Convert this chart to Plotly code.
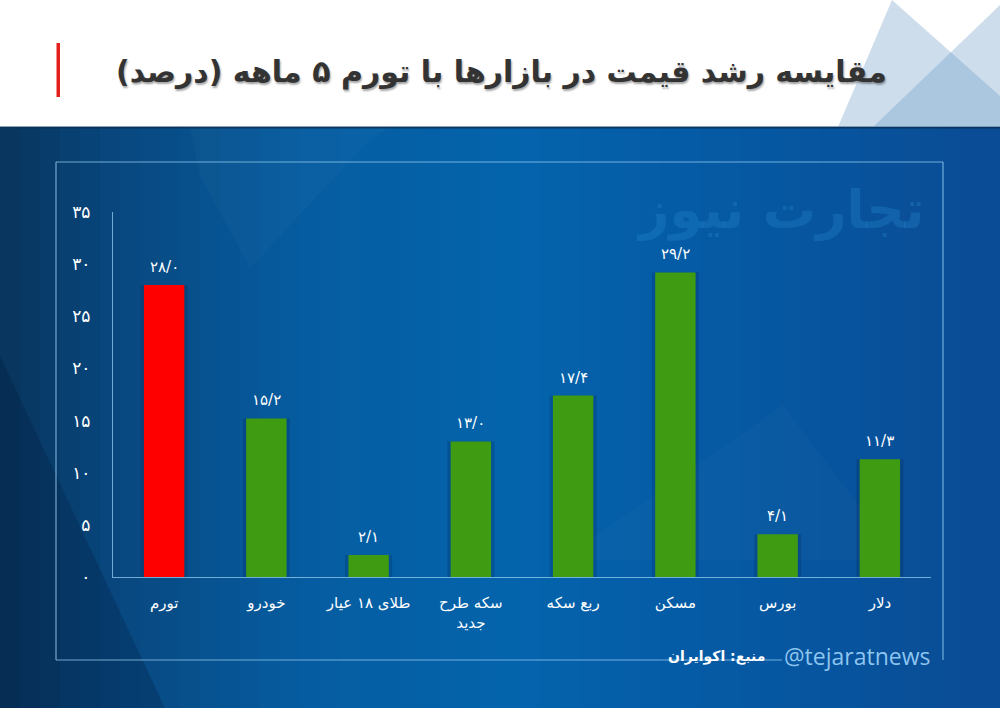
import plotly.graph_objects as go

# ---------------- data ----------------
categories = ["تورم", "خودرو", "طلای ۱۸ عیار", "سکه طرح<br>جدید", "ربع سکه", "مسکن", "بورس", "دلار"]
values = [28.0, 15.2, 2.1, 13.0, 17.4, 29.2, 4.1, 11.3]
value_labels = ["۲۸/۰", "۱۵/۲", "۲/۱", "۱۳/۰", "۱۷/۴", "۲۹/۲", "۴/۱", "۱۱/۳"]
bar_colors = ["#ff0000", "#3f9c12", "#3f9c12", "#3f9c12", "#3f9c12", "#3f9c12", "#3f9c12", "#3f9c12"]
y_tickvals = [0, 5, 10, 15, 20, 25, 30, 35]
y_ticktext = ["۰", "۵", "۱۰", "۱۵", "۲۰", "۲۵", "۳۰", "۳۵"]
title_text = "مقایسه رشد قیمت در بازارها با تورم ۵ ماهه (درصد)"
source_text = "منبع: اکوایران"
handle_text = "@tejaratnews"
watermark_text = "تجارت نیوز"

# ---------------- layout geometry (pixels) ----------------
W, H = 1000, 708
L, R, T, B = 113, 931, 212, 577


def px(x):
    return (x - L) / (R - L)


def py(y):
    return (B - y) / (B - T)


def path(points):
    s = "M " + " L ".join(f"{px(x):.5f},{py(y):.5f}" for x, y in points) + " Z"
    return s


shapes = []

# white header
shapes.append(dict(type="rect", xref="paper", yref="paper", x0=px(0), x1=px(W), y0=py(0), y1=py(127),
                   fillcolor="white", line_width=0, layer="below"))

# blue gradient background (horizontal)
stops = [(0, (8, 52, 92)), (120, (8, 72, 128)), (300, (6, 92, 160)), (520, (4, 100, 172)),
         (760, (6, 88, 162)), (1000, (10, 76, 148))]


def interp(x):
    for (x0, c0), (x1, c1) in zip(stops[:-1], stops[1:]):
        if x0 <= x <= x1:
            t = (x - x0) / (x1 - x0)
            return tuple(int(round(a + (b - a) * t)) for a, b in zip(c0, c1))
    return stops[-1][1]


n = 50
for i in range(n):
    xa = W * i / n
    xb = W * (i + 1) / n + 0.6
    c = interp((xa + xb) / 2)
    shapes.append(dict(type="rect", xref="paper", yref="paper", x0=px(xa), x1=px(xb), y0=py(127), y1=py(H),
                       fillcolor=f"rgb{c}", line_width=0, layer="below"))

# subtle decorative polygons on the blue background
shapes.append(dict(type="path", xref="paper", yref="paper", path=path([(0, 356), (165, 708), (0, 708)]),
                   fillcolor="rgba(0,20,50,0.22)", line_width=0, layer="below"))
shapes.append(dict(type="path", xref="paper", yref="paper",
                   path=path([(190, 127), (200, 176), (250, 268), (370, 140), (390, 127)]),
                   fillcolor="rgba(255,255,255,0.022)", line_width=0, layer="below"))
shapes.append(dict(type="path", xref="paper", yref="paper",
                   path=path([(783, 405), (560, 560), (900, 560)]),
                   fillcolor="rgba(255,255,255,0.02)", line_width=0, layer="below"))
shapes.append(dict(type="line", xref="paper", yref="paper", x0=px(0), x1=px(W), y0=py(127.5), y1=py(127.5),
                   line=dict(color="rgba(10,50,90,0.9)", width=2), layer="below"))

# header triangles (top right)
tri_col = "rgba(100,150,195,0.32)"
shapes.append(dict(type="path", xref="paper", yref="paper",
                   path=path([(892, 0), (838, 127), (1000, 127), (1000, 96)]),
                   fillcolor=tri_col, line_width=0, layer="below"))
shapes.append(dict(type="path", xref="paper", yref="paper",
                   path=path([(1000, 5), (873, 127), (1000, 127)]),
                   fillcolor=tri_col, line_width=0, layer="below"))

# red accent bar next to title
shapes.append(dict(type="rect", xref="paper", yref="paper", x0=px(56.5), x1=px(60), y0=py(43), y1=py(97),
                   fillcolor="#e3201b", line_width=0, layer="above"))

# frame lines
fc = "rgba(150,205,240,0.75)"
for (xa, ya, xb, yb) in [(56, 162, 943, 162), (56, 162, 56, 660), (943, 162, 943, 660), (56, 660, 782, 660)]:
    shapes.append(dict(type="line", xref="paper", yref="paper", x0=px(xa), x1=px(xb), y0=py(ya), y1=py(yb),
                       line=dict(color=fc, width=1.2), layer="below"))

fig = go.Figure()

# soft shadow behind the bars
fig.add_trace(go.Bar(x=categories, y=values, width=0.46,
                     marker=dict(color="rgba(0,25,70,0.2)", line_width=0),
                     hoverinfo="skip", showlegend=False))
fig.add_trace(go.Bar(x=categories, y=values, width=0.395,
                     marker=dict(color=bar_colors, line_width=0), showlegend=False))

annotations = []
for c, v, t in zip(categories, values, value_labels):
    annotations.append(dict(x=c, y=v, xref="x", yref="y", text=t, showarrow=False, yanchor="bottom",
                            yshift=7, font=dict(family="DejaVu Sans", size=15, color="white")))

# title
annotations.append(dict(x=px(889), y=py(72), xref="paper", yref="paper", text=title_text, showarrow=False,
                        xanchor="right", yanchor="middle",
                        font=dict(family="DejaVu Sans", size=30, color="#333333", weight="bold",
                                  shadow="1px 2px 2px rgba(0,0,0,0.35)")))
# watermark
annotations.append(dict(x=px(780), y=py(210), xref="paper", yref="paper", text=watermark_text, showarrow=False,
                        xanchor="center", yanchor="middle",
                        font=dict(family="DejaVu Sans", size=53, color="rgba(40,140,210,0.3)", weight="bold")))
# source
annotations.append(dict(x=px(767), y=py(656), xref="paper", yref="paper", text=source_text, showarrow=False,
                        xanchor="right", yanchor="middle",
                        font=dict(family="DejaVu Sans", size=14, color="white", weight="bold")))
annotations.append(dict(x=px(933), y=py(656), xref="paper", yref="paper", text=handle_text, showarrow=False,
                        xanchor="right", yanchor="middle",
                        font=dict(family="Open Sans", size=23, color="rgba(150,205,245,0.95)")))

fig.update_layout(
    width=W, height=H,
    margin=dict(l=L, r=W - R, t=T, b=H - B, pad=0),
    paper_bgcolor="white", plot_bgcolor="rgba(0,0,0,0)",
    barmode="overlay", bargap=0.5,
    shapes=shapes, annotations=annotations,
    showlegend=False,
    xaxis=dict(showline=True, linecolor=fc, linewidth=1.2, showgrid=False, zeroline=False,
               ticks="", ticklabelstandoff=12,
               tickfont=dict(family="DejaVu Sans", size=15, color="white")),
    yaxis=dict(range=[0, 35], tickvals=y_tickvals, ticktext=y_ticktext, showline=True, linecolor=fc,
               linewidth=1.2, showgrid=False, zeroline=False, ticks="", ticklabelstandoff=18,
               tickfont=dict(family="DejaVu Sans", size=17, color="white")),
)

fig.write_html("out.html")
